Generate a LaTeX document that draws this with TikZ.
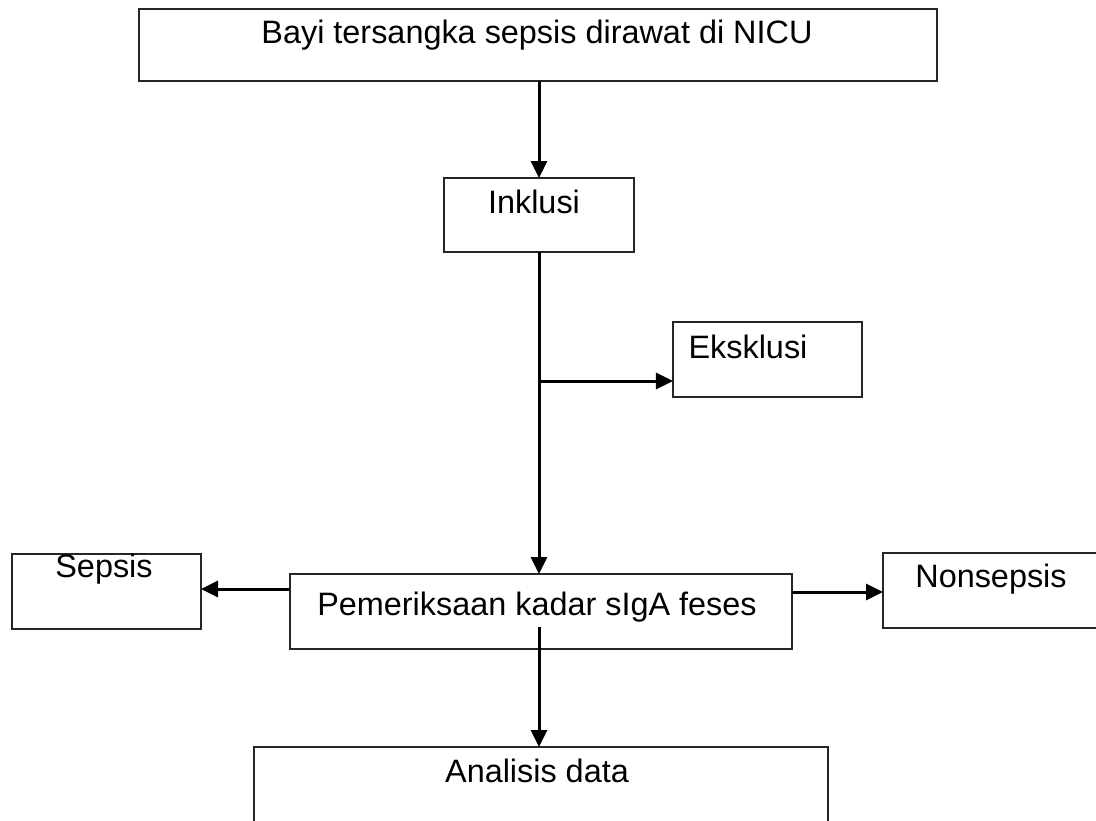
\documentclass[tikz,border=0pt]{standalone}
\usepackage{fontspec}
\setmainfont{Liberation Sans}
\usetikzlibrary{arrows.meta}
\begin{document}
\begin{tikzpicture}[x=0.5bp,y=-0.5bp,
  box/.style={draw=black!85,line width=1bp,rectangle,inner sep=0pt,outer sep=0pt},
  conn/.style={line width=1.5bp,-{Triangle[length=8.5bp,width=8bp]}},
  lbl/.style={anchor=base,inner sep=0pt,font=\fontsize{16.2bp}{19bp}\selectfont}]
\clip (0,0) rectangle (1096,821);
\useasboundingbox (0,0) rectangle (1096,821);
\fill[white] (0,0) rectangle (1096,821);
% boxes
\node[box,minimum width=399bp,minimum height=36bp] (b1) at (538,45) {};
\node[box,minimum width=95bp,minimum height=37bp] (inkl) at (539,215) {};
\node[box,minimum width=94.5bp,minimum height=37.5bp] (eks) at (767.5,359.5) {};
\node[box,minimum width=94.5bp,minimum height=37.5bp] (sep) at (106.5,591.5) {};
\node[box,minimum width=251bp,minimum height=37.5bp] (pem) at (541,611.5) {};
\node[box,minimum width=111bp,minimum height=37.5bp] (non) at (994,590.5) {};
\node[box,minimum width=287bp,minimum height=40bp] (ana) at (541,787) {};
% texts
\node[lbl] (t1) at (537,43) {Bayi tersangka sepsis dirawat di NICU};
\node[lbl] (t2) at (534,213) {Inklusi};
\node[lbl] (t3) at (748,358) {Eksklusi};
\node[lbl] (t4) at (104,577) {Sepsis};
\node[lbl] (t5) at (991,587) {Nonsepsis};
\node[lbl] (t6) at (537,615) {Pemeriksaan kadar sIgA feses};
\node[lbl] (t7) at (537,782) {Analisis data};
% helper coordinates
\coordinate (sp) at (539,0);
\coordinate (br) at (539,381);
\coordinate (ys) at (0,589);
\coordinate (yn) at (0,592);
\coordinate (pa) at (539,627);
% connectors
\draw[conn] (b1.south -| sp) -- (inkl.north -| sp);
\draw[conn] (inkl.south -| sp) -- (pem.north -| sp);
\draw[conn] (br) -- (br -| eks.west);
\draw[conn] (pem.west |- ys) -- (sep.east |- ys);
\draw[conn] (pem.east |- yn) -- (non.west |- yn);
\draw[conn] (pa) -- (ana.north -| pa);
\end{tikzpicture}
\end{document}
